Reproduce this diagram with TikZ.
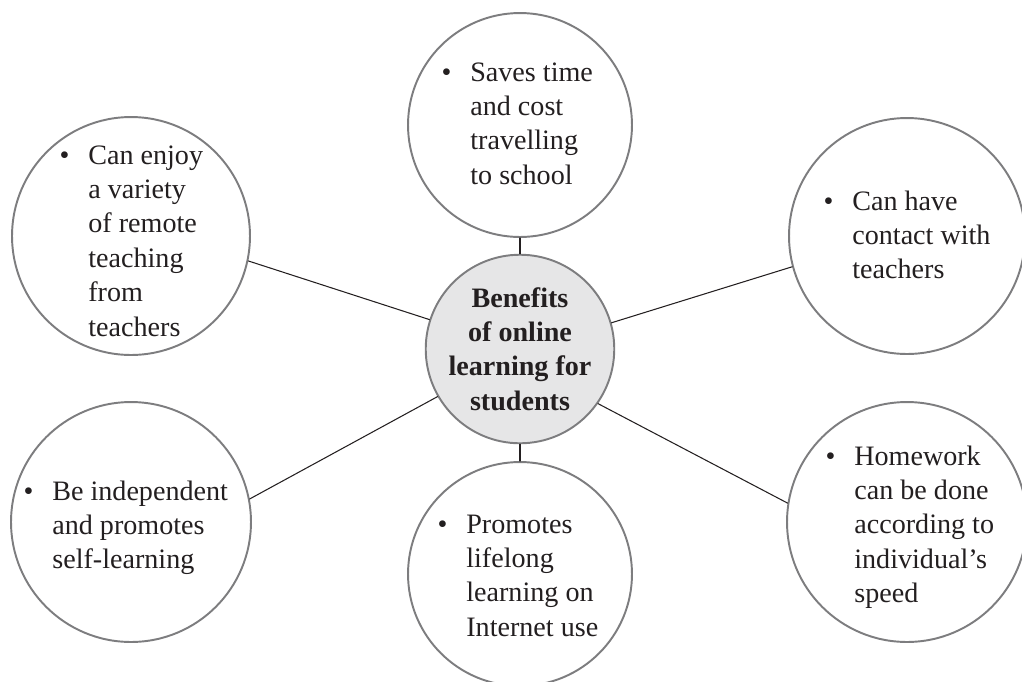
\documentclass[tikz,border=0pt]{standalone}
\usepackage{fontspec}
\setmainfont{Liberation Serif}
\definecolor{ringgray}{RGB}{125,125,127}
\definecolor{hubfill}{RGB}{230,230,231}
\definecolor{inkblack}{RGB}{35,31,32}
\newcommand{\bitem}[1]{\begin{tabular}[t]{@{}l@{}}\llap{\textbullet\hspace{0.38cm}}#1\end{tabular}}
\begin{document}
\begin{tikzpicture}[x=0.02cm, y=-0.02cm, font=\fontsize{16}{19.6}\selectfont, line join=round, line cap=round, text=inkblack,
		bubble/.style={circle, draw=ringgray, line width=1.1pt, fill=white, inner sep=0pt},
		hub/.style={bubble, fill=hubfill, minimum size=3.76cm, align=center, font=\fontsize{16}{19.6}\selectfont\bfseries},
		txt/.style={anchor=base west, inner sep=0pt},
		link/.style={draw=inkblack, line width=0.6pt}]
			\useasboundingbox (0,0) rectangle (1022,681);
			% circles
			\node[hub] (hub) at (520,349) {Benefits\\of online\\learning for\\students};
			\node[bubble, minimum size=4.48cm] (save) at (520,125) {};
			\node[bubble, minimum size=4.76cm] (enjoy) at (131,236) {};
			\node[bubble, minimum size=4.72cm] (contact) at (907,236) {};
			\node[bubble, minimum size=4.8cm] (indep) at (131,522) {};
			\node[bubble, minimum size=4.48cm] (lifelong) at (520,574) {};
			\node[bubble, minimum size=4.8cm] (homework) at (907,522) {};
			% links
			\draw[link] (hub.north) -- (save.south);
			\draw[link] (hub.south) -- (lifelong.north);
			\draw[link] (hub.162.7) -- (enjoy.-12.7);
			\draw[link] (hub.16.5) -- (contact.-165.3);
			\draw[link] (hub.210.3) -- (indep.11.3);
			\draw[link] (hub.-35.2) -- (homework.171.6);
			% texts
			\node[txt] (tsave) at (470,81) {\bitem{Saves time\\and cost\\travelling\\to school}};
			\node[txt] (tenjoy) at (88,164) {\bitem{Can enjoy\\a variety\\of remote\\teaching\\from\\teachers}};
			\node[txt] (tcontact) at (852,210) {\bitem{Can have\\contact with\\teachers}};
			\node[txt] (tindep) at (52,500) {\bitem{Be independent\\and promotes\\self-learning}};
			\node[txt] (tlifelong) at (466,533) {\bitem{Promotes\\lifelong\\learning on\\Internet use}};
			\node[txt] (thomework) at (854,465) {\bitem{Homework\\can be done\\according to\\individual’s\\speed}};
	\end{tikzpicture}
\end{document}
